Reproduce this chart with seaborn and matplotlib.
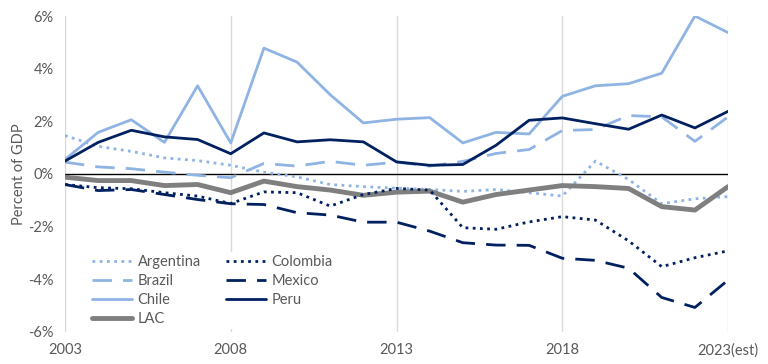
import numpy as np
import pandas as pd
import matplotlib
matplotlib.use('Agg')
import matplotlib.pyplot as plt
import seaborn as sns

# Data (percent of GDP)
years = list(range(2003, 2024))
argentina = [1.46, 1.05, 0.86, 0.61, 0.51, 0.33, 0.07, -0.11, -0.40, -0.48, -0.54,
             -0.59, -0.66, -0.59, -0.71, -0.84, 0.49, -0.21, -1.13, -0.94, -0.86]
brazil = [0.45, 0.27, 0.20, 0.07, -0.05, -0.14, 0.40, 0.30, 0.48, 0.33, 0.45,
          0.30, 0.48, 0.78, 0.93, 1.65, 1.69, 2.22, 2.17, 1.24, 2.17]
chile = [0.55, 1.58, 2.06, 1.20, 3.35, 1.18, 4.78, 4.25, 3.01, 1.94, 2.08,
         2.14, 1.18, 1.58, 1.52, 2.95, 3.35, 3.43, 3.83, 6.00, 5.37]
colombia = [-0.40, -0.52, -0.56, -0.71, -0.84, -1.12, -0.68, -0.71, -1.22, -0.78, -0.55,
            -0.61, -2.04, -2.10, -1.82, -1.62, -1.75, -2.54, -3.52, -3.18, -2.92]
mexico = [-0.40, -0.63, -0.59, -0.78, -0.97, -1.13, -1.16, -1.47, -1.56, -1.83, -1.83,
          -2.17, -2.61, -2.70, -2.71, -3.20, -3.28, -3.58, -4.69, -5.07, -4.03]
peru = [0.49, 1.20, 1.66, 1.41, 1.31, 0.77, 1.56, 1.22, 1.30, 1.22, 0.46,
        0.33, 0.36, 1.09, 2.04, 2.13, 1.91, 1.70, 2.24, 1.75, 2.38]
lac = [-0.12, -0.25, -0.25, -0.44, -0.40, -0.71, -0.27, -0.48, -0.61, -0.81, -0.69,
       -0.65, -1.07, -0.78, -0.61, -0.44, -0.48, -0.55, -1.24, -1.37, -0.48]

xtick_years = [2003, 2008, 2013, 2018, 2023]
xtick_labels = ['2003', '2008', '2013', '2018', '2023(est)']

light = '#8FB4E3'
dark = '#002060'
grey = '#7F7F7F'
text_col = '#595959'

sns.set_style('white')
plt.rcParams['font.family'] = ['Lato', 'DejaVu Sans']

fig = plt.figure(figsize=(7.68, 3.64), dpi=100)
ax = fig.add_axes([0.0846, 0.088, 0.8634, 0.868])

# vertical gridlines and zero line
for yr in xtick_years:
    ax.axvline(yr, color='#D9D9D9', lw=1, zorder=0)
ax.axhline(0, color='black', lw=1, zorder=1)

series = [
    ('Argentina', argentina, light, (0, (1, 1.6)), 2.0),
    ('Brazil', brazil, light, (0, (7, 4)), 2.0),
    ('Chile', chile, light, '-', 2.0),
    ('LAC', lac, grey, '-', 3.5),
    ('Colombia', colombia, dark, (0, (1, 1.6)), 2.0),
    ('Mexico', mexico, dark, (0, (7, 4)), 2.0),
    ('Peru', peru, dark, '-', 2.0),
]

for name, vals, col, ls, lw in series:
    sns.lineplot(x=years, y=vals, ax=ax, color=col, linestyle=ls, linewidth=lw,
                 label=name, zorder=3)

ax.set_xlim(2003, 2023)
ax.set_ylim(-6, 6)
ax.set_yticks([-6, -4, -2, 0, 2, 4, 6])
ax.set_yticklabels(['-6%', '-4%', '-2%', '0%', '2%', '4%', '6%'])
ax.set_xticks(xtick_years)
ax.set_xticklabels(xtick_labels)
ax.tick_params(axis='both', colors=text_col, labelsize=10.5, length=0, pad=8)
ax.set_ylabel('Percent of GDP', color=text_col, fontsize=10.5, labelpad=2)
sns.despine(ax=ax, left=True, bottom=True)

leg = ax.legend(ncol=2, loc='upper left', bbox_to_anchor=(0.106, 0.327),
                bbox_transform=fig.transFigure, frameon=True, facecolor='white',
                edgecolor='none', framealpha=1, fontsize=10.5, handlelength=2.8,
                handletextpad=0.35, columnspacing=1.7, labelspacing=0.35,
                borderpad=0.2, fancybox=False)
for t in leg.get_texts():
    t.set_color(text_col)

fig.savefig('out.png', dpi=100)
